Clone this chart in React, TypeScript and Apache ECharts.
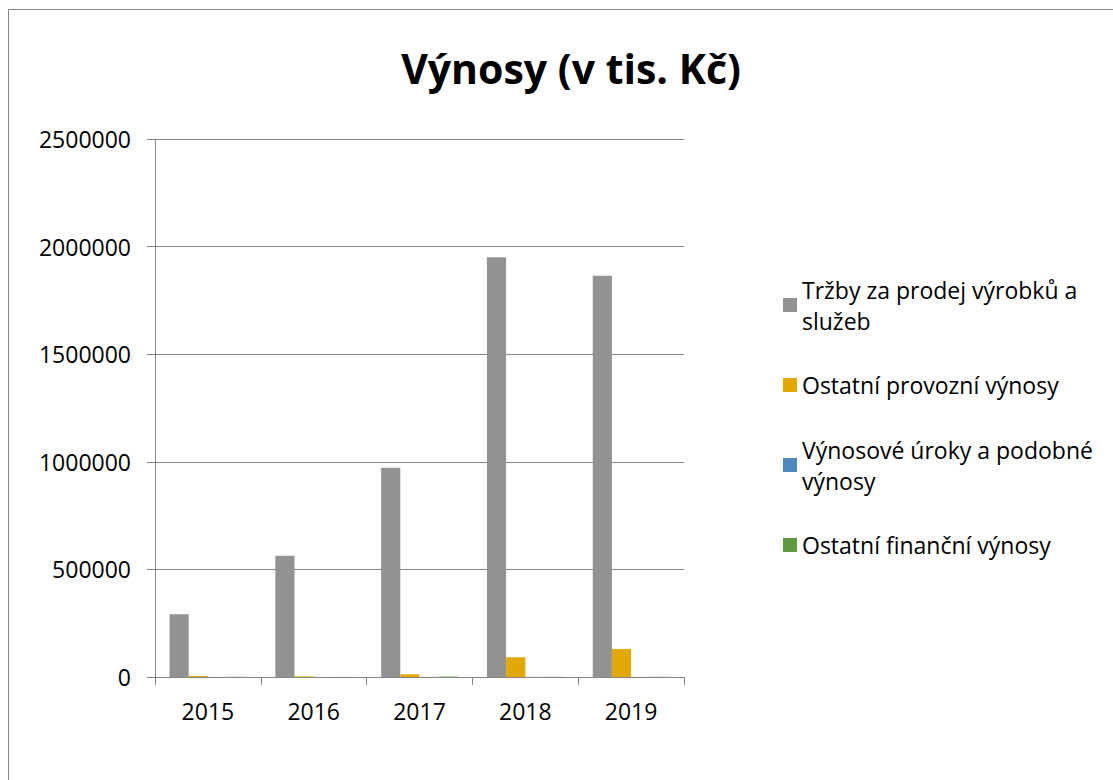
import React, { useEffect, useRef } from "react";
import * as echarts from "echarts";

const years = ["2015", "2016", "2017", "2018", "2019"];
const seriesNames = [
  "Tržby za prodej výrobků a služeb",
  "Ostatní provozní výnosy",
  "Výnosové úroky a podobné výnosy",
  "Ostatní finanční výnosy",
];
const trzby = [291900, 563700, 972000, 1950500, 1865000];
const ostatniProvozni = [4600, 3000, 12400, 91600, 130400];
const urokove = [300, 200, 400, 600, 500];
const ostatniFinancni = [900, 500, 2000, 800, 1000];
const colors = ["#929292", "#E2A800", "#4F88BF", "#5F9A3F"];
const legendLines: Record<string, string> = {
  "Tržby za prodej výrobků a služeb": "Tržby za prodej výrobků a\nslužeb",
  "Ostatní provozní výnosy": "Ostatní provozní výnosy",
  "Výnosové úroky a podobné výnosy": "Výnosové úroky a podobné\nvýnosy",
  "Ostatní finanční výnosy": "Ostatní finanční výnosy",
};

const FONT = "'Open Sans', sans-serif";

export default function App() {
  const ref = useRef<HTMLDivElement>(null);
  useEffect(() => {
    if (!ref.current) return;
    const chart = echarts.init(ref.current, null, { renderer: "svg" });
    const values = [trzby, ostatniProvozni, urokove, ostatniFinancni];
    const legendCenters = [305, 385, 465, 545];
    const twoLine = [true, false, true, false];
    const legends = seriesNames.map((n, i) => ({
      data: [n],
      left: 783,
      top: twoLine[i] ? legendCenters[i] - 46.5 : legendCenters[i] - 15.5,
      padding: 0,
      orient: "vertical",
      icon: "rect",
      itemWidth: 14,
      itemHeight: 14,
      itemGap: 0,
      selectedMode: false,
      formatter: (name: string) => legendLines[name] || name,
      textStyle: {
        fontFamily: FONT,
        fontSize: 23,
        lineHeight: 31,
        color: "#000",
        padding: twoLine[i] ? [31, 0, 0, 0] : [0, 0, 0, 0],
      },
    }));
    chart.setOption({
      animation: false,
      backgroundColor: "#fff",
      textStyle: { fontFamily: FONT },
      graphic: [
        {
          type: "rect",
          shape: { x: 8.5, y: 9.5, width: 1200, height: 900 },
          style: { fill: "none", stroke: "#878787", lineWidth: 1 },
          silent: true,
        },
        {
          type: "text",
          x: 571,
          y: 68,
          style: {
            text: "Výnosy (v tis. Kč)",
            fontFamily: FONT,
            fontSize: 41,
            fontWeight: "bold",
            fill: "#000",
            align: "center",
            verticalAlign: "middle",
          },
        },
      ],
      legend: legends,
      grid: { left: 155, top: 139, width: 529, height: 538, containLabel: false },
      xAxis: {
        type: "category",
        data: years,
        axisLine: { show: true, lineStyle: { color: "#868686", width: 1 } },
        axisTick: { show: true, length: 8, lineStyle: { color: "#868686" } },
        axisLabel: { fontFamily: FONT, fontSize: 23, color: "#000", margin: 22 },
      },
      yAxis: {
        type: "value",
        min: 0,
        max: 2500000,
        interval: 500000,
        axisLine: { show: true, lineStyle: { color: "#868686", width: 1 } },
        axisTick: { show: true, length: 8, lineStyle: { color: "#868686" } },
        axisLabel: {
          fontFamily: FONT,
          fontSize: 23,
          color: "#000",
          margin: 24,
          formatter: (v: number) => String(v),
        },
        splitLine: { show: true, lineStyle: { color: "#868686", width: 1 } },
      },
      series: seriesNames.map((n, i) => ({
        name: n,
        type: "bar",
        data: values[i],
        itemStyle: { color: colors[i] },
        barGap: "0%",
        barCategoryGap: "27.5%",
      })),
    });
    return () => chart.dispose();
  }, []);
  return (
    <div
      ref={ref}
      style={{ position: "absolute", left: 0, top: 0, width: 1113, height: 780 }}
    />
  );
}
